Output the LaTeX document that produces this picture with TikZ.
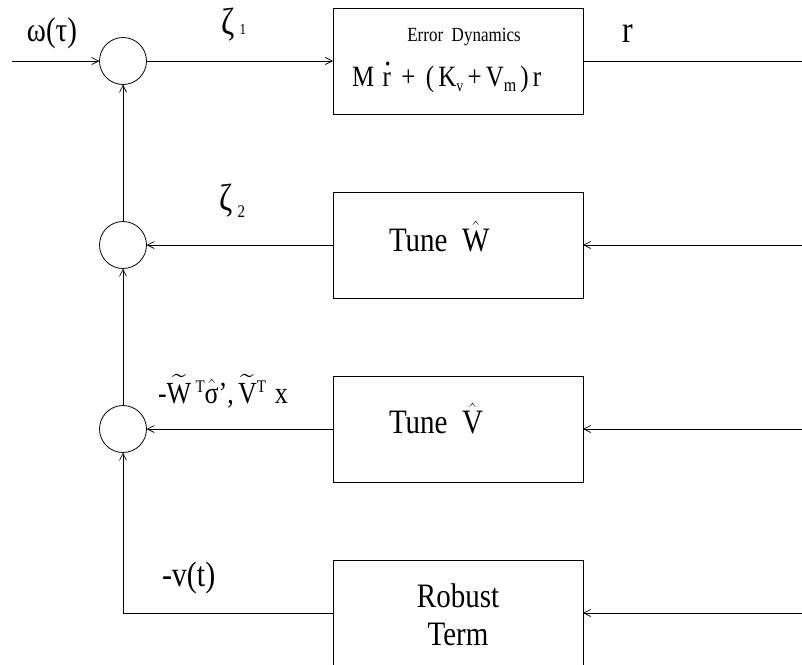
\documentclass[tikz,border=0pt]{standalone}
\usepackage{amsmath}
\usepackage{graphicx}
\usepackage{fontspec}
\setmainfont{Liberation Serif}
\usetikzlibrary{arrows.meta}
\newcommand{\tallx}[1]{\scalebox{1}[1.18]{#1}}
\begin{document}
\begin{tikzpicture}[x=1pt,y=-1pt,
  every node/.style={inner sep=0pt, outer sep=0pt},
  blk/.style={draw, line width=0.8pt, minimum width=250pt, minimum height=106pt},
  sumnode/.style={draw, circle, minimum size=47pt, line width=0.8pt},
  sig/.style={line width=0.8pt, -{Straight Barb[length=7pt,width=7pt,line width=0.7pt]}},
  plain/.style={line width=0.8pt},
  big/.style={font=\fontsize{29}{36}\selectfont},
  lbl/.style={font=\fontsize{26}{30}\selectfont}]
\clip (0,0) rectangle (802,664);
\fill[white] (0,0) rectangle (802,664);
% summing junctions
\node[sumnode] (s1) at (123,61) {};
\node[sumnode] (s2) at (123,245) {};
\node[sumnode] (s3) at (123,429) {};
% blocks
\node[blk] (ed) at (458,61) {};
\node[blk] (tw) at (458,245) {};
\node[blk] (tv) at (458,429) {};
\node[blk] (rb) at (458,613) {};
% block texts
\node[font=\fontsize{17}{20}\selectfont] (edt) at (464,37) {\tallx{Error~~Dynamics}};
\node[anchor=base west, font=\fontsize{25}{30}\selectfont] (edf) at (352,86)
  {\tallx{M\,\,r\llap{\raisebox{14pt}{\fontsize{14}{14}\selectfont\textbullet}\hspace{0.5pt}}\, +\, (\,K{\fontsize{14}{14}\selectfont\raisebox{-5pt}{v}}\,+\,V{\fontsize{16}{16}\selectfont\raisebox{-5pt}{m}}\,)\,r}};
\node[big, anchor=base west] (twt) at (389,251) {\tallx{Tune~~$\hat{\text{W}}$}};
\node[big, anchor=base west] (tvt) at (389,433) {\tallx{Tune~~$\hat{\text{V}}$}};
\node[big, anchor=base] (rbt1) at (458,607) {\tallx{Robust}};
\node[big, anchor=base] (rbt2) at (458,645) {\tallx{Term}};
% external points
\coordinate (win) at (12,61);
\coordinate (rout) at (805,61);
\coordinate (inw) at (805,245);
\coordinate (inv) at (805,429);
\coordinate (inr) at (805,613);
% connectors
\draw[sig] (win) -- (s1.west);
\draw[sig] (s1.east) -- (ed.west);
\draw[plain] (ed.east) -- (rout);
\draw[sig] (inw) -- (tw.east);
\draw[sig] (inv) -- (tv.east);
\draw[sig] (inr) -- (rb.east);
\draw[sig] (tw.west) -- (s2.east);
\draw[sig] (tv.west) -- (s3.east);
\draw[sig] (rb.west) -| (s3.south);
\draw[sig] (s3.north) -- (s2.south);
\draw[sig] (s2.north) -- (s1.south);
% signal labels
\node[font=\fontsize{29}{32}\selectfont, anchor=base west] (lw) at (27,41) {\tallx{ω(τ)}};
\node[font=\fontsize{32}{34}\selectfont, anchor=base west] (lz1) at (221,34) {\tallx{ζ\,{\fontsize{13}{13}\selectfont 1}}};
\node[font=\fontsize{32}{34}\selectfont] (lr) at (628,34) {\tallx{r}};
\node[font=\fontsize{32}{34}\selectfont, anchor=base west] (lz2) at (219,210) {\tallx{ζ\,{\fontsize{15}{15}\selectfont\raisebox{-6pt}{2}}}};
\node[lbl, anchor=base west] (lt) at (158,403)
  {\tallx{-$\widetilde{\text{W}}$\,{\fontsize{15}{15}\selectfont\raisebox{9pt}{T}}$\hat{\text{σ}}$',\,$\widetilde{\text{V}}${\fontsize{15}{15}\selectfont\raisebox{9pt}{T}}\,\,x}};
\node[lbl, font=\fontsize{30}{32}\selectfont, anchor=base west] (lv) at (162,586) {\tallx{-v(t)}};
\end{tikzpicture}
\end{document}
